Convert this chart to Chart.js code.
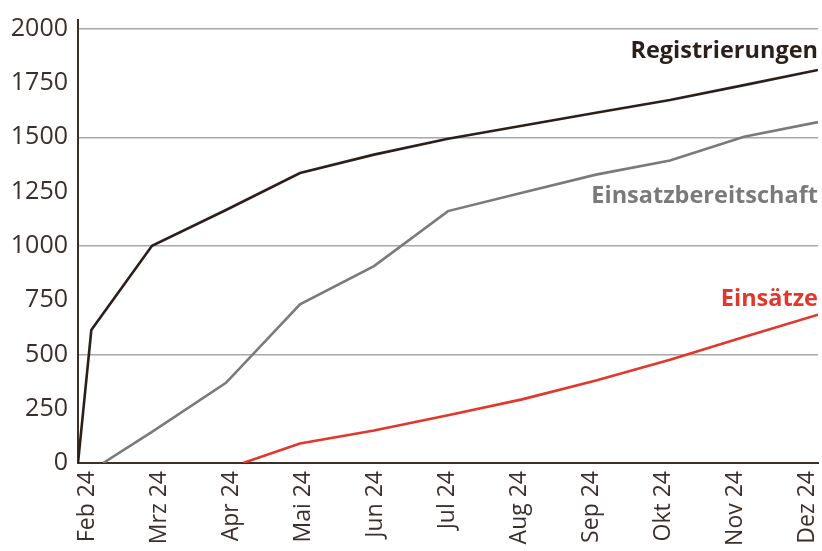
<!DOCTYPE html>
<html>
<head>
<meta charset="utf-8">
<script src="https://cdn.jsdelivr.net/npm/chart.js@4/dist/chart.umd.min.js"></script>
<style>
  html, body { margin: 0; padding: 0; background: #ffffff; overflow: hidden; }
  #wrap { width: 822px; height: 551px; }
</style>
</head>
<body>
<div id="wrap"><canvas id="c" width="822" height="551"></canvas></div>
<script>
// Month categories (x positions are month indices; fractional = within month)
const monthLabels = ['Feb 24','Mrz 24','Apr 24','Mai 24','Jun 24','Jul 24','Aug 24','Sep 24','Okt 24','Nov 24','Dez 24'];
const yTickValues = [0, 250, 500, 750, 1000, 1250, 1500, 1750, 2000];

// Registrierungen
const regX = [0, 0.18, 1, 2, 3, 4, 5, 6, 7, 8, 9, 10];
const regY = [0, 612, 1000, 1165, 1335, 1420, 1493, 1553, 1613, 1672, 1740, 1810];

// Einsatzbereitschaft
const einX = [0.34, 1, 2, 3, 4, 5, 6, 7, 8, 9, 10];
const einY = [0, 143, 369, 731, 907, 1160, 1245, 1328, 1393, 1502, 1570];

// Einsätze
const insX = [2.23, 3, 4, 5, 6, 7, 8, 9, 10];
const insY = [0, 90, 150, 220, 293, 380, 475, 580, 683];

const seriesNames = ['Registrierungen', 'Einsatzbereitschaft', 'Einsätze'];
const seriesColors = ['#2b1f19', '#7a7a7a', '#e2372c'];

function pts(xs, ys) { return xs.map((x, i) => ({ x: x, y: ys[i] })); }

const endLabels = {
  id: 'endLabels',
  afterDatasetsDraw(chart, args, opts) {
    const ctx = chart.ctx;
    const ys = chart.scales.y;
    const right = chart.chartArea.right;
    ctx.save();
    ctx.font = 'bold 23.5px "Open Sans", sans-serif';
    ctx.textAlign = 'right';
    ctx.textBaseline = 'alphabetic';
    chart.data.datasets.forEach((ds, i) => {
      ctx.fillStyle = ds.borderColor;
      ctx.fillText(ds.label, right, ys.getPixelForValue(opts.anchors[i]));
    });
    ctx.restore();
  }
};

const axisColor = '#3b3028';

new Chart(document.getElementById('c'), {
  type: 'line',
  data: {
    datasets: [
      { label: seriesNames[0], data: pts(regX, regY), xAxisID: 'xd', borderColor: seriesColors[0], borderWidth: 2.6, pointRadius: 0, tension: 0, fill: false },
      { label: seriesNames[1], data: pts(einX, einY), xAxisID: 'xd', borderColor: seriesColors[1], borderWidth: 2.6, pointRadius: 0, tension: 0, fill: false },
      { label: seriesNames[2], data: pts(insX, insY), xAxisID: 'xd', borderColor: seriesColors[2], borderWidth: 2.6, pointRadius: 0, tension: 0, fill: false }
    ]
  },
  options: {
    responsive: false,
    animation: false,
    layout: { padding: { top: 20, right: 4, left: 0, bottom: 0 } },
    plugins: {
      legend: { display: false },
      tooltip: { enabled: false },
      endLabels: { anchors: [1863, 1199, 721] }
    },
    scales: {
      // data axis (hidden): month index 0..10 across the plot width
      xd: {
        type: 'linear',
        position: 'bottom',
        display: false,
        min: 0,
        max: monthLabels.length - 1
      },
      // label axis: month labels spread slightly inside the plot, as in the original
      x: {
        type: 'linear',
        position: 'bottom',
        min: -0.125,
        max: monthLabels.length - 1 + 0.153,
        afterBuildTicks: (axis) => { axis.ticks = monthLabels.map((_, i) => ({ value: i })); },
        afterFit: (s) => { s.height = 88; s.paddingLeft = 0; s.paddingRight = 0; },
        ticks: {
          autoSkip: false,
          maxRotation: 90,
          minRotation: 90,
          padding: 8,
          color: axisColor,
          font: { family: '"Open Sans", sans-serif', size: 23 },
          callback: (v) => monthLabels[v]
        },
        grid: { display: false, drawTicks: false },
        border: { display: true, color: axisColor, width: 2 }
      },
      y: {
        min: 0,
        max: 2040,
        afterBuildTicks: (axis) => { axis.ticks = yTickValues.map(v => ({ value: v })); },
        afterFit: (s) => { s.width = 78; s.paddingTop = 0; s.paddingBottom = 0; },
        ticks: {
          padding: 10,
          color: axisColor,
          font: { family: '"Open Sans", sans-serif', size: 25 },
          callback: (v) => String(v)
        },
        grid: {
          drawTicks: false,
          lineWidth: 1.5,
          color: (ctx) => (ctx.tick && ctx.tick.value > 0 && ctx.tick.value % 500 === 0) ? '#a8a8a8' : 'rgba(0,0,0,0)'
        },
        border: { display: true, color: axisColor, width: 2 }
      }
    }
  },
  plugins: [endLabels]
});
</script>
</body>
</html>
